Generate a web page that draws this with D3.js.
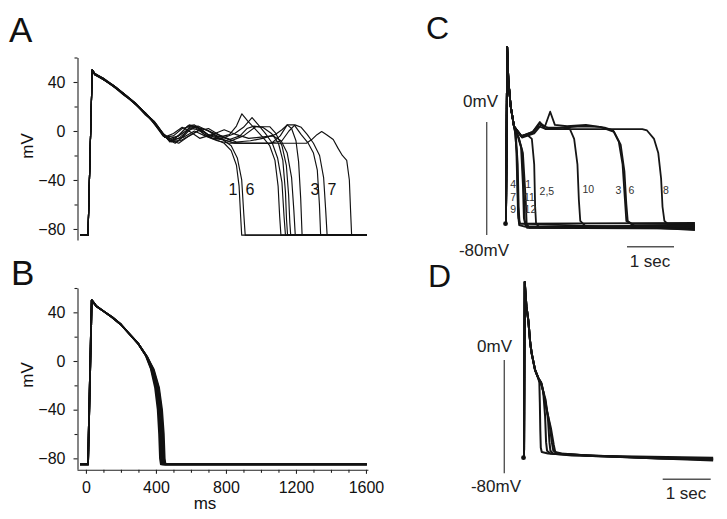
<!DOCTYPE html>
<html><head><meta charset="utf-8">
<script src="https://cdn.jsdelivr.net/npm/d3@7"></script>
<style>
html,body{margin:0;padding:0;background:#fff;}
svg{display:block;font-family:"Liberation Sans",Arial,sans-serif;}
</style></head>
<body>
<svg id="chart" width="727" height="519"></svg>
<script>
// ---------- DATA ----------
// Panel A/B: time (ms), membrane potential (mV)
const apStartA = [[-32,-85],[12,-85],[36,50]];
const tracesA = [
  [[50,47],[100,43],[160,36],[220,30],[280,22],[330,15],[390,7],[440,-3],[480,-8],[520,-9],[560,-4],[600,2],[640,1],[690,-4],[740,-7],[790,-10],[830,-16],[860,-28],[875,-45],[884,-70],[890,-85],[1605,-85]],
  [[50,47],[100,42],[150,38],[210,31],[270,24],[330,16],[380,9],[430,-1],[470,-7],[510,-10],[550,-5],[590,3],[630,4],[670,-2],[720,-6],[780,-7],[830,-12],[865,-22],[890,-40],[902,-68],[910,-85],[1605,-85]],
  [[50,46],[110,41],[170,35],[230,28],[290,21],[340,13],[400,6],[450,-4],[490,-9],[540,-2],[590,5],[640,3],[700,-3],[760,-5],[820,-3],[860,4],[891,14],[925,8],[965,2],[1010,-5],[1050,-12],[1080,-24],[1098,-45],[1107,-70],[1114,-85],[1605,-85]],
  [[50,47],[100,42],[160,37],[220,29],[280,23],[340,14],[390,8],[440,-2],[480,-6],[530,-4],[580,4],[620,5],[670,0],[720,-6],[780,-6],[850,-2],[900,3],[949,11],[985,5],[1025,-2],[1065,-10],[1095,-22],[1120,-42],[1132,-70],[1140,-85],[1605,-85]],
  [[50,46],[100,42],[150,37],[210,30],[260,25],[320,17],[370,10],[430,0],[470,-7],[530,-10],[580,-5],[640,0],[700,2],[760,-3],[830,-8],[900,-4],[970,3.5],[1050,3.5],[1085,-2],[1120,-12],[1145,-28],[1158,-52],[1165,-75],[1170,-85],[1605,-85]],
  [[50,47],[110,42],[170,36],[230,29],[290,22],[350,13],[400,4],[450,-5],[500,-2],[550,3],[600,-1],[650,-6],[720,-3],[790,1],[860,-3],[930,-6],[1000,-5],[1070,-4],[1115,-8],[1150,-18],[1175,-38],[1188,-65],[1196,-85],[1605,-85]],
  [[50,46],[100,43],[160,36],[220,30],[280,23],[330,16],[390,6],[440,-4],[490,-8],[540,-8],[600,-3],[660,2],[720,-1],[790,-5],[860,-9],[940,-8],[1010,-6],[1080,-3],[1120,1],[1150,5],[1175,2],[1200,-8],[1215,-25],[1227,-55],[1235,-85],[1605,-85]],
  [[50,47],[100,42],[160,37],[220,30],[280,22],[340,15],[390,7],[440,-3],[490,-7],[540,-3],[590,2],[640,4],[700,0],[760,-6],[830,-9],[900,-10],[980,-10],[1060,-10],[1110,-4],[1150,5],[1190,5],[1230,-3],[1270,-10],[1300,-18],[1322,-32],[1334,-60],[1341,-85],[1605,-85]],
  [[50,47],[110,41],[170,36],[230,29],[290,21],[350,13],[400,5],[450,-5],[500,-4],[550,2],[600,4],[650,1],[710,-4],[780,-7],[850,-10],[950,-10],[1050,-10],[1120,-8],[1160,0],[1194,5],[1230,3],[1265,-3],[1300,-10],[1335,-20],[1358,-38],[1370,-65],[1378,-85],[1605,-85]],
  [[50,46],[100,42],[160,36],[220,30],[280,23],[340,14],[400,5],[450,-5],[500,-7],[560,-5],[620,0],[680,-4],[750,-8],[820,-10],[950,-10],[1100,-10],[1260,-10],[1290,-7],[1320,-3],[1347,-0.5],[1375,-3],[1413,-7],[1440,-14],[1465,-20],[1490,-24],[1505,-40],[1512,-65],[1518,-85],[1605,-85]],
  [[50,47],[100,43],[150,38],[210,31],[270,24],[330,16],[390,7],[440,-2],[480,-9],[530,-6],[580,0],[630,3],[690,1],[750,-4],[820,-7],[880,-4],[920,2],[960,4],[1010,3],[1060,-2],[1100,-10],[1125,-24],[1140,-50],[1146,-72],[1152,-85],[1605,-85]]
];
const labelsA = [
  {text:"1", t:840, v:-48},{text:"6", t:937, v:-48},
  {text:"3", t:1309, v:-48},{text:"7", t:1406, v:-48}
];

const apStartB = [[-34,-85],[12,-85],[33,50]];
const tracesB = [
  [[60,45],[100,41],[150,36],[200,30],[250,22],[300,14],[340,5],[370,-6],[395,-22],[410,-40],[418,-60],[423,-80],[428,-85],[1605,-85]],
  [[60,45],[100,41],[150,36],[200,30],[250,22],[300,14],[342,5],[372,-6],[400,-22],[415,-40],[424,-60],[429,-80],[434,-85],[1605,-85]],
  [[60,45],[100,41],[150,36],[200,30],[250,22],[300,14],[345,4],[377,-7],[405,-22],[420,-40],[429,-60],[434,-80],[439,-85],[1605,-85]],
  [[60,45],[100,41],[150,36],[200,30],[250,22],[300,14],[350,3],[382,-7],[410,-22],[426,-40],[435,-60],[440,-80],[445,-85],[1605,-85]],
  [[60,45],[100,41],[150,36],[200,30],[250,22],[300,14],[352,3],[385,-7],[415,-22],[431,-40],[440,-60],[445,-80],[450,-85],[1605,-85]],
  [[60,45],[100,41],[150,36],[200,30],[250,22],[300,14],[355,2],[388,-7],[418,-22],[435,-40],[445,-60],[450,-80],[455,-85],[1605,-85]]
];

const yMajorTicks = [-80,-40,0,40];
const yMinorTicks = [-60,-20,20,60];
const xMajorTicks = [0,400,800,1200,1600];
const xMinorTicks = [100,200,300,500,600,700,900,1000,1100,1300,1400,1500];

// Panel C/D: time (s), membrane potential (mV)
const apStartC = [[-0.01,-72],[0,-72],[0.025,53],[0.05,30],[0.1,11],[0.17,-3]];
const tracesC = [
  [[0.2,-8],[0.22,-20],[0.24,-45],[0.255,-65],[0.28,-73],[0.4,-74],[4.02,-74]],
  [[0.19,-7],[0.23,-22],[0.25,-50],[0.265,-68],[0.3,-72],[4.02,-71.5]],
  [[0.21,-9],[0.25,-30],[0.27,-60],[0.29,-72],[4.02,-76]],
  [[0.25,-10],[0.32,-18],[0.36,-45],[0.38,-68],[0.42,-74],[4.02,-73.5]],
  [[0.26,-10],[0.34,-20],[0.38,-50],[0.4,-70],[0.45,-75],[4.02,-75.5]],
  [[0.27,-11],[0.36,-22],[0.42,-55],[0.44,-72],[0.5,-75],[4.02,-74.5]],
  [[0.33,-10],[0.45,-9],[0.55,-12],[0.6,-30],[0.62,-60],[0.64,-72],[0.72,-75],[4.02,-72.5]],
  [[0.33,-10],[0.57,-7],[0.72,0],[0.8,-3],[0.9,-4],[1.2,-4],[1.36,-5],[1.45,-12],[1.52,-30],[1.55,-55],[1.58,-70],[1.7,-74],[4.02,-74]],
  [[0.33,-10],[0.57,-7],[0.72,-1],[0.83,-3],[0.94,7.3],[1.04,-2],[1.3,-3],[1.7,-2],[2.1,-4],[2.28,-6],[2.4,-14],[2.48,-30],[2.53,-55],[2.56,-70],[2.7,-73],[4.02,-73]],
  [[0.34,-11],[0.6,-8],[0.75,-2],[0.85,-5],[1.2,-4],[1.6,-3],[2.0,-3.5],[2.3,-7],[2.44,-16],[2.52,-35],[2.56,-58],[2.59,-70],[2.75,-74],[4.02,-76.5]],
  [[0.32,-10],[0.55,-8],[0.7,-3],[0.85,-5],[1.2,-5],[1.5,-5],[2.0,-5],[2.5,-5],[2.9,-5],[3.0,-6],[3.15,-12],[3.24,-22],[3.3,-40],[3.33,-60],[3.37,-70],[3.5,-74],[4.02,-74.5]]
];
const labelsC = [
  {text:"4", t:0.155, v:-44},{text:"7", t:0.155, v:-53},{text:"9", t:0.155, v:-61.5},
  {text:"1", t:0.47, v:-44},{text:"11", t:0.5, v:-53},{text:"12", t:0.52, v:-61.5},
  {text:"2,5", t:0.87, v:-49},{text:"10", t:1.75, v:-47.5},
  {text:"3", t:2.39, v:-48.5},{text:"6", t:2.67, v:-48.5},{text:"8", t:3.4, v:-48.5}
];

const apStartD = [[-0.01,-69],[0,-69],[0.015,55],[0.05,38],[0.09,28],[0.13,12],[0.16,4.7],[0.23,-7],[0.3,-13]];
const tracesD = [
  [[0.32,-16],[0.33,-30],[0.34,-50],[0.35,-62],[0.37,-65],[0.5,-66],[1.0,-67],[2.0,-68.5],[3.94,-71]],
  [[0.34,-15],[0.4,-22],[0.44,-40],[0.46,-58],[0.48,-64],[0.55,-66],[1.0,-67.5],[2.0,-68],[3.94,-69]],
  [[0.36,-17],[0.45,-28],[0.5,-42],[0.53,-58],[0.55,-64],[0.6,-66],[1.2,-67],[2.5,-69],[3.94,-70.5]],
  [[0.37,-17],[0.47,-35],[0.56,-48],[0.62,-60],[0.65,-65],[0.78,-66],[1.5,-68],[3.0,-69],[3.94,-69.5]],
  [[0.36,-16],[0.46,-32],[0.53,-45],[0.58,-58],[0.61,-64],[0.7,-66],[1.3,-67.5],[2.8,-69.5],[3.94,-70]]
];

const scaleBarMV = [0,-80];   // vertical scale bar (mV)
const scaleBarSec = 1;        // horizontal scale bar (s)

// ---------- DRAW ----------
const svg = d3.select("#chart");

// shared x scale for A & B
const xAB = d3.scaleLinear().domain([-51,1611]).range([77,367.9]);
const yA = d3.scaleLinear().domain([-89,60]).range([240,57.5]);
const yB = d3.scaleLinear().domain([-89,60]).range([469.3,288]);

function drawYAxis(g, y){
  g.call(d3.axisLeft(y).tickValues(yMajorTicks).tickSize(4).tickPadding(8).tickSizeOuter(0).tickFormat(d3.format("d")));
  g.call(gg=>gg.selectAll(".tick text").attr("font-size",16).attr("fill","#111"));
  g.append("g").call(d3.axisLeft(y).tickValues(yMinorTicks).tickSize(3).tickFormat("").tickSizeOuter(0))
    .call(gg=>gg.select(".domain").remove());
  g.selectAll("line,path").attr("stroke","#222").attr("stroke-width",1.1);
}

// Panel A
const gA = svg.append("g");
gA.append("g").attr("transform",`translate(${xAB(-51)+0.5},0)`).call(g=>drawYAxis(g,yA));
const lineA = d3.line().x(d=>xAB(d[0])).y(d=>yA(d[1]));
gA.selectAll("path.trA").data(tracesA).join("path").attr("class","trA")
  .attr("d",d=>lineA(apStartA.concat(d))).attr("fill","none").attr("stroke","#111").attr("stroke-width",1.15).attr("stroke-linejoin","round");
gA.selectAll("text.lbA").data(labelsA).join("text").attr("class","lbA")
  .attr("x",d=>xAB(d.t)).attr("y",d=>yA(d.v)).attr("text-anchor","middle").attr("dy","0.35em")
  .attr("font-size",16).attr("fill","#111").text(d=>d.text);
gA.append("text").attr("transform",`translate(33,146) rotate(-90)`).attr("text-anchor","middle")
  .attr("font-size",17).attr("fill","#111").text("mV");
svg.append("text").attr("x",9).attr("y",42).attr("font-size",35).attr("fill","#111").text("A");

// Panel B
const gB = svg.append("g");
gB.append("g").attr("transform",`translate(${xAB(-51)+0.5},0)`).call(g=>drawYAxis(g,yB));
const xAxisG = gB.append("g").attr("transform",`translate(0,${yB(-89)+0.5})`);
xAxisG.call(d3.axisBottom(xAB).tickValues(xMajorTicks).tickSize(4).tickPadding(8).tickSizeOuter(0).tickFormat(d3.format("d")));
xAxisG.selectAll(".tick text").attr("font-size",16).attr("fill","#111");
xAxisG.append("g").call(d3.axisBottom(xAB).tickValues(xMinorTicks).tickSize(3).tickFormat("").tickSizeOuter(0))
  .call(g=>g.select(".domain").remove());
xAxisG.selectAll("line,path").attr("stroke","#222").attr("stroke-width",1.1);
const lineB = d3.line().x(d=>xAB(d[0])).y(d=>yB(d[1]));
gB.selectAll("path.trB").data(tracesB).join("path").attr("class","trB")
  .attr("d",d=>lineB(apStartB.concat(d))).attr("fill","none").attr("stroke","#111").attr("stroke-width",1.8).attr("stroke-linejoin","round");
gB.append("text").attr("transform",`translate(33,375) rotate(-90)`).attr("text-anchor","middle")
  .attr("font-size",17).attr("fill","#111").text("mV");
gB.append("text").attr("x",205).attr("y",509).attr("text-anchor","middle").attr("font-size",17).attr("fill","#111").text("ms");
svg.append("text").attr("x",11).attr("y",285).attr("font-size",35).attr("fill","#111").text("B");

// Panel C
const xC = d3.scaleLinear().domain([0,1]).range([506,553]);
const yC = d3.scaleLinear().domain([-80,0]).range([235,122]);
const lineC = d3.line().x(d=>xC(d[0])).y(d=>yC(d[1]));
const gC = svg.append("g");
gC.selectAll("path.trC").data(tracesC).join("path").attr("class","trC")
  .attr("d",d=>lineC(apStartC.concat(d))).attr("fill","none").attr("stroke","#151515").attr("stroke-width",1.8).attr("stroke-linejoin","round");
gC.append("circle").attr("cx",xC(apStartC[0][0])).attr("cy",yC(apStartC[0][1])).attr("r",2.4).attr("fill","#111");
gC.selectAll("text.lbC").data(labelsC).join("text").attr("class","lbC")
  .attr("x",d=>xC(d.t)).attr("y",d=>yC(d.v)).attr("text-anchor","middle").attr("dy","0.35em")
  .attr("font-size",10.5).attr("fill","#333").text(d=>d.text);
// scale bars
gC.append("line").attr("x1",486.7).attr("x2",486.7).attr("y1",yC(scaleBarMV[0])).attr("y2",yC(scaleBarMV[1]))
  .attr("stroke","#555").attr("stroke-width",1.4);
gC.append("line").attr("x1",627).attr("x2",627+(xC(scaleBarSec)-xC(0))).attr("y1",246.7).attr("y2",246.7)
  .attr("stroke","#555").attr("stroke-width",1.4);
gC.append("text").attr("x",498).attr("y",107).attr("text-anchor","end").attr("font-size",17).attr("fill","#222").text("0mV");
gC.append("text").attr("x",484).attr("y",256).attr("text-anchor","middle").attr("font-size",17).attr("fill","#222").text("-80mV");
gC.append("text").attr("x",650).attr("y",267).attr("text-anchor","middle").attr("font-size",17).attr("fill","#222").text("1 sec");
svg.append("text").attr("x",426).attr("y",39).attr("font-size",32).attr("fill","#111").text("C");

// Panel D
const xD = d3.scaleLinear().domain([0,1]).range([524,572]);
const yD = d3.scaleLinear().domain([-80,0]).range([473.3,360]);
const lineD = d3.line().x(d=>xD(d[0])).y(d=>yD(d[1]));
const gD = svg.append("g");
gD.selectAll("path.trD").data(tracesD).join("path").attr("class","trD")
  .attr("d",d=>lineD(apStartD.concat(d))).attr("fill","none").attr("stroke","#151515").attr("stroke-width",2).attr("stroke-linejoin","round");
gD.append("circle").attr("cx",xD(apStartD[0][0])).attr("cy",yD(apStartD[0][1])).attr("r",2.4).attr("fill","#111");
gD.append("line").attr("x1",504.3).attr("x2",504.3).attr("y1",yD(scaleBarMV[0])).attr("y2",yD(scaleBarMV[1]))
  .attr("stroke","#555").attr("stroke-width",1.4);
gD.append("line").attr("x1",662.7).attr("x2",662.7+(xD(scaleBarSec)-xD(0))).attr("y1",479.3).attr("y2",479.3)
  .attr("stroke","#555").attr("stroke-width",1.4);
gD.append("text").attr("x",512).attr("y",352).attr("text-anchor","end").attr("font-size",17).attr("fill","#222").text("0mV");
gD.append("text").attr("x",496).attr("y",492).attr("text-anchor","middle").attr("font-size",17).attr("fill","#222").text("-80mV");
gD.append("text").attr("x",686).attr("y",499).attr("text-anchor","middle").attr("font-size",17).attr("fill","#222").text("1 sec");
svg.append("text").attr("x",428).attr("y",287).attr("font-size",32).attr("fill","#111").text("D");
</script>
</body></html>
